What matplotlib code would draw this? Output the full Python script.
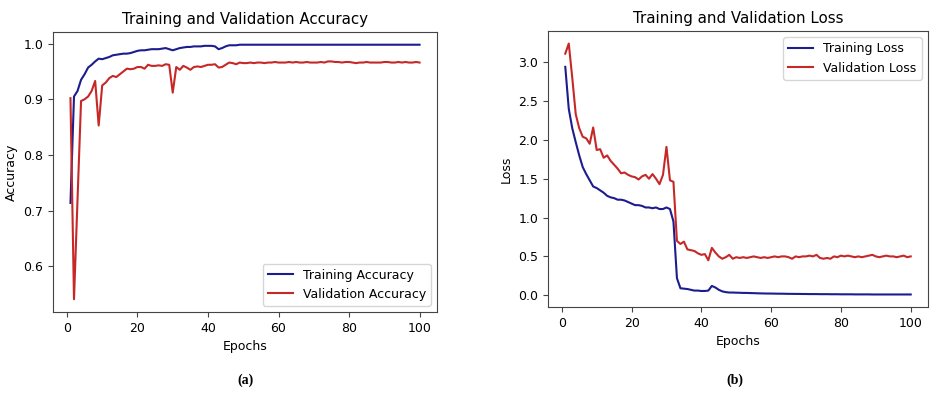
import matplotlib
matplotlib.use("Agg")
import matplotlib.pyplot as plt
import numpy as np

epochs = np.arange(1, 101)

train_acc = [
    0.714, 0.905, 0.915, 0.935, 0.945, 0.957, 0.962, 0.968, 0.973, 0.972,
    0.974, 0.976, 0.979, 0.980, 0.981, 0.982, 0.982, 0.983, 0.985, 0.987,
    0.988, 0.988, 0.989, 0.990, 0.990, 0.990, 0.991, 0.992, 0.990, 0.988,
    0.990, 0.992, 0.993, 0.994, 0.994, 0.995, 0.995, 0.995, 0.996, 0.996,
    0.996, 0.995, 0.990, 0.992, 0.995, 0.997, 0.997, 0.997, 0.998, 0.998,
    0.998, 0.998, 0.998, 0.998, 0.998, 0.998, 0.998, 0.998, 0.998, 0.998,
    0.998, 0.998, 0.998, 0.998, 0.998, 0.998, 0.998, 0.998, 0.998, 0.998,
    0.998, 0.998, 0.998, 0.998, 0.998, 0.998, 0.998, 0.998, 0.998, 0.998,
    0.998, 0.998, 0.998, 0.998, 0.998, 0.998, 0.998, 0.998, 0.998, 0.998,
    0.998, 0.998, 0.998, 0.998, 0.998, 0.998, 0.998, 0.998, 0.998, 0.998,
]
val_acc = [
    0.902, 0.541, 0.720, 0.897, 0.900, 0.905, 0.915, 0.933, 0.853, 0.925,
    0.930, 0.938, 0.942, 0.940, 0.945, 0.950, 0.955, 0.954, 0.955, 0.958,
    0.958, 0.955, 0.962, 0.960, 0.960, 0.961, 0.960, 0.963, 0.962, 0.912,
    0.958, 0.953, 0.960, 0.957, 0.953, 0.958, 0.959, 0.958, 0.960, 0.962,
    0.962, 0.963, 0.957, 0.958, 0.962, 0.966, 0.965, 0.963, 0.966, 0.965,
    0.965, 0.966, 0.965, 0.966, 0.966, 0.965, 0.966, 0.966, 0.967, 0.966,
    0.966, 0.966, 0.967, 0.966, 0.967, 0.966, 0.966, 0.967, 0.966, 0.966,
    0.966, 0.967, 0.966, 0.968, 0.968, 0.967, 0.967, 0.966, 0.967, 0.967,
    0.966, 0.965, 0.966, 0.966, 0.967, 0.966, 0.966, 0.966, 0.966, 0.967,
    0.967, 0.966, 0.966, 0.967, 0.966, 0.967, 0.966, 0.966, 0.967, 0.966,
]

train_loss = [
    2.94, 2.40, 2.15, 1.97, 1.80, 1.65, 1.56, 1.48, 1.40, 1.38,
    1.35, 1.32, 1.28, 1.26, 1.25, 1.23, 1.23, 1.22, 1.20, 1.18,
    1.16, 1.16, 1.15, 1.13, 1.13, 1.12, 1.13, 1.11, 1.11, 1.13,
    1.11, 0.95, 0.22, 0.09, 0.085, 0.08, 0.07, 0.06, 0.06, 0.055,
    0.055, 0.06, 0.12, 0.10, 0.07, 0.05, 0.04, 0.035, 0.035, 0.033,
    0.032, 0.03, 0.03, 0.028, 0.027, 0.025, 0.024, 0.023, 0.022, 0.022,
    0.021, 0.02, 0.02, 0.019, 0.018, 0.018, 0.017, 0.017, 0.016, 0.016,
    0.015, 0.015, 0.015, 0.014, 0.014, 0.014, 0.013, 0.013, 0.013, 0.012,
    0.012, 0.012, 0.012, 0.011, 0.011, 0.011, 0.011, 0.011, 0.010, 0.010,
    0.010, 0.010, 0.010, 0.010, 0.010, 0.010, 0.010, 0.010, 0.010, 0.010,
]
val_loss = [
    3.11, 3.24, 2.80, 2.33, 2.15, 2.04, 2.02, 1.95, 2.16, 1.87,
    1.88, 1.77, 1.80, 1.73, 1.68, 1.63, 1.57, 1.58, 1.55, 1.53,
    1.52, 1.49, 1.53, 1.55, 1.50, 1.56, 1.50, 1.43, 1.55, 1.91,
    1.48, 1.46, 0.70, 0.66, 0.69, 0.59, 0.58, 0.57, 0.54, 0.52,
    0.53, 0.45, 0.61, 0.55, 0.50, 0.47, 0.49, 0.52, 0.47, 0.49,
    0.48, 0.49, 0.48, 0.49, 0.50, 0.49, 0.48, 0.49, 0.48, 0.49,
    0.50, 0.49, 0.50, 0.50, 0.49, 0.47, 0.50, 0.49, 0.50, 0.50,
    0.51, 0.50, 0.52, 0.48, 0.47, 0.48, 0.47, 0.50, 0.49, 0.51,
    0.50, 0.51, 0.50, 0.49, 0.50, 0.49, 0.50, 0.51, 0.52, 0.50,
    0.49, 0.50, 0.51, 0.50, 0.50, 0.49, 0.50, 0.51, 0.49, 0.50,
]

blue = "#1c1c8f"
red = "#c62828"

plt.rcParams["font.family"] = ["DejaVu Sans"]
fig = plt.figure(figsize=(9.35, 3.96), dpi=100)

ax1 = fig.add_axes([0.0567, 0.2121, 0.4107, 0.7071])
ax2 = fig.add_axes([0.5861, 0.2247, 0.4064, 0.697])

ax1.plot(epochs, train_acc, color=blue, lw=1.5, label="Training Accuracy")
ax1.plot(epochs, val_acc, color=red, lw=1.5, label="Validation Accuracy")
ax1.set_title("Training and Validation Accuracy", fontsize=10.8)
ax1.set_xlabel("Epochs", fontsize=9)
ax1.set_ylabel("Accuracy", fontsize=9)
ax1.set_yticks([0.6, 0.7, 0.8, 0.9, 1.0])
ax1.legend(loc="lower right", fontsize=9)

ax2.plot(epochs, train_loss, color=blue, lw=1.5, label="Training Loss")
ax2.plot(epochs, val_loss, color=red, lw=1.5, label="Validation Loss")
ax2.set_title("Training and Validation Loss", fontsize=10.8)
ax2.set_xlabel("Epochs", fontsize=9)
ax2.set_ylabel("Loss", fontsize=9)
ax2.legend(loc="upper right", fontsize=9)

for ax in (ax1, ax2):
    ax.set_xticks([0, 20, 40, 60, 80, 100])
    ax.tick_params(labelsize=9, color="#444444")
    for s in ax.spines.values():
        s.set_color("#444444")

fig.text(245 / 935, 1 - 380 / 396, "(a)", ha="center", va="center",
         family="Liberation Serif", weight="bold", fontsize=10)
fig.text(735 / 935, 1 - 380 / 396, "(b)", ha="center", va="center",
         family="Liberation Serif", weight="bold", fontsize=10)

fig.savefig("out.png", dpi=100)
